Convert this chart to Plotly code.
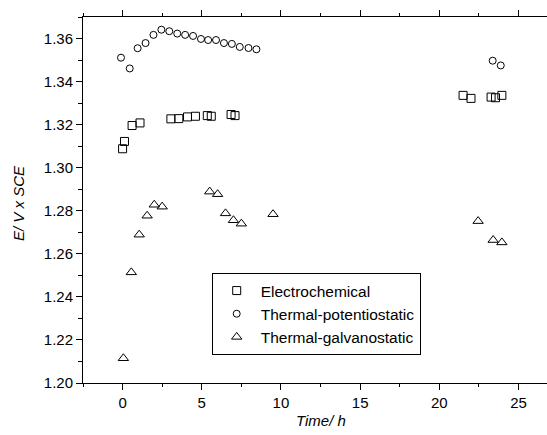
import plotly.graph_objects as go

# Electrochemical
t_elec = [0.0, 0.12, 0.6, 1.1, 3.05, 3.55, 4.1, 4.6, 5.35, 5.6, 6.85, 7.1, 21.5, 22.0, 23.27, 23.55, 23.95]
e_elec = [1.3088, 1.3122, 1.3196, 1.3208, 1.3227, 1.3228, 1.3236, 1.3239, 1.3242, 1.3239, 1.3247, 1.3242,
          1.3336, 1.3322, 1.3328, 1.3325, 1.3336]

# Thermal-potentiostatic
t_pot = [-0.1, 0.45, 0.95, 1.45, 1.95, 2.45, 2.95, 3.45, 3.95, 4.45, 4.95, 5.4, 5.9, 6.4, 6.9, 7.4, 7.95, 8.45,
         23.37, 23.88]
e_pot = [1.3511, 1.3461, 1.3555, 1.3579, 1.3617, 1.3641, 1.3634, 1.3623, 1.3617, 1.3612, 1.3598, 1.3593,
         1.3593, 1.3579, 1.3575, 1.3561, 1.3556, 1.3550, 1.3497, 1.3475]

# Thermal-galvanostatic
t_gal = [0.05, 0.55, 1.05, 1.55, 2.0, 2.5, 5.5, 6.0, 6.5, 7.0, 7.5, 9.5, 22.45, 23.4, 23.95]
e_gal = [1.2115, 1.2514, 1.2689, 1.2777, 1.2828, 1.2819, 1.2889, 1.2877, 1.2788, 1.2756, 1.2740, 1.2784,
         1.2752, 1.2664, 1.2653]

x_ticks = [0, 5, 10, 15, 20, 25]
y_ticks = [1.20, 1.22, 1.24, 1.26, 1.28, 1.30, 1.32, 1.34, 1.36]

FONT = "Liberation Sans, Arial, sans-serif"

W, H = 547, 435
ML, MR, MT, MB = 83, 0, 17, 52
PW, PH = W - ML - MR, H - MT - MB

fig = go.Figure()
fig.add_trace(go.Scatter(x=t_elec, y=e_elec, mode="markers", name="Electrochemical",
                         marker=dict(symbol="square-open", size=8, color="black", line=dict(width=1))))
fig.add_trace(go.Scatter(x=t_pot, y=e_pot, mode="markers", name="Thermal-potentiostatic",
                         marker=dict(symbol="circle-open", size=7, color="black", line=dict(width=1))))
fig.add_trace(go.Scatter(x=t_gal, y=e_gal, mode="markers", name="Thermal-galvanostatic",
                         marker=dict(symbol="triangle-up-open", size=9, color="black", line=dict(width=1))))

fig.update_layout(
    width=W, height=H,
    margin=dict(l=ML, r=MR, t=MT, b=MB),
    paper_bgcolor="white", plot_bgcolor="white",
    font=dict(family=FONT, size=15, color="black"),
    showlegend=True,
    legend=dict(
        x=(211.7 - ML) / PW, y=(H - MB - 273) / PH,
        xanchor="left", yanchor="top",
        bordercolor="black", borderwidth=1, bgcolor="white",
        font=dict(family=FONT, size=15.5),
        itemwidth=38,
    ),
    xaxis=dict(
        range=[-2.5, 26.8], tickvals=x_ticks, ticktext=[str(v) for v in x_ticks],
        showgrid=False, zeroline=False,
        showline=True, linecolor="black", linewidth=1, mirror="allticks",
        ticks="outside", ticklen=6, tickcolor="black",
        minor=dict(dtick=2.5, tick0=0, ticks="outside", ticklen=3, tickcolor="black", showgrid=False),
    ),
    yaxis=dict(
        range=[1.20, 1.37], tickvals=y_ticks, ticktext=[f"{v:.2f}" for v in y_ticks],
        showgrid=False, zeroline=False,
        showline=True, linecolor="black", linewidth=1, mirror=False,
        ticks="outside", ticklen=6, tickcolor="black",
        minor=dict(dtick=0.01, tick0=1.20, ticks="outside", ticklen=4, tickcolor="black", showgrid=False),
    ),
    annotations=[
        dict(text="<i>Time/ h</i>", xref="paper", yref="paper",
             x=(321 - ML) / PW, y=(H - MB - 420.5) / PH, xanchor="center", yanchor="middle",
             showarrow=False, font=dict(size=15)),
        dict(text="<i>E/ V x SCE</i>", xref="paper", yref="paper",
             x=(18 - ML) / PW, y=(H - MB - 203) / PH, xanchor="center", yanchor="middle",
             textangle=-90, showarrow=False, font=dict(size=15)),
    ],
)

fig.write_html("out.html")
